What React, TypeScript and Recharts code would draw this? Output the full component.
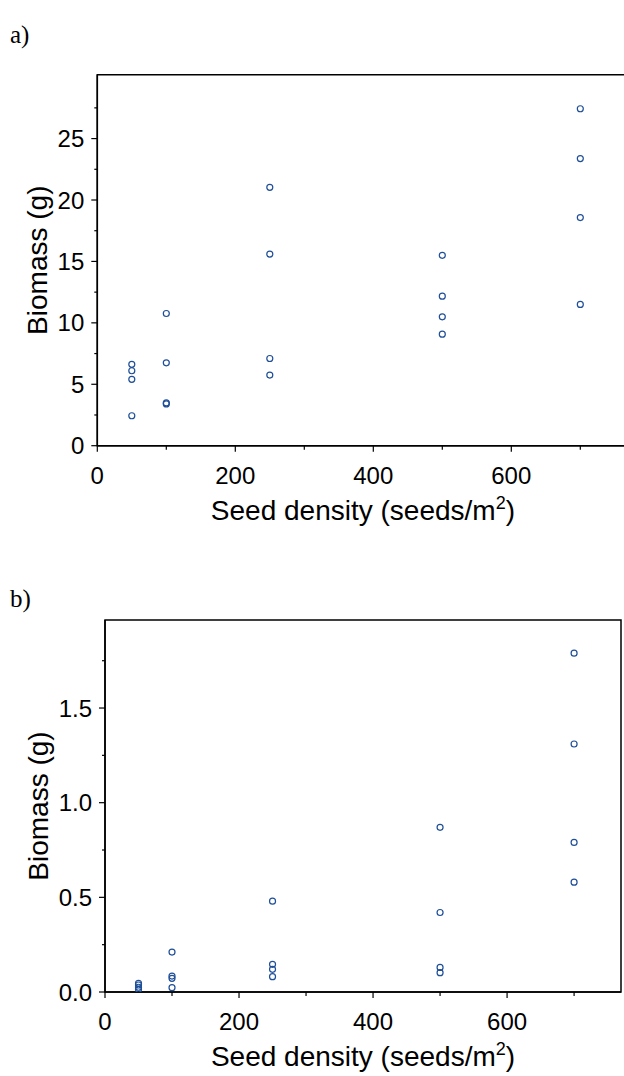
import React from 'react'
import { ScatterChart, Scatter, XAxis, YAxis, ReferenceArea } from 'recharts'

// panel a) seed density vs biomass
const densityA = [50, 50, 50, 50, 100, 100, 100, 100, 250, 250, 250, 250, 500, 500, 500, 500, 700, 700, 700, 700]
const biomassA = [6.62, 6.1, 5.4, 2.44, 10.76, 6.75, 3.48, 3.4, 21.03, 15.6, 7.1, 5.75, 15.5, 12.17, 10.49, 9.08, 27.43, 23.37, 18.57, 11.5]

// panel b)
const densityB = [50, 50, 50, 50, 100, 100, 100, 100, 250, 250, 250, 250, 500, 500, 500, 500, 700, 700, 700, 700]
const biomassB = [0.046, 0.037, 0.025, 0.014, 0.211, 0.084, 0.072, 0.023, 0.48, 0.146, 0.12, 0.081, 0.87, 0.42, 0.13, 0.102, 1.79, 1.31, 0.79, 0.58]

const xTicks = [0, 100, 200, 300, 400, 500, 600, 700]
const xMajor = [0, 200, 400, 600]
const yTicksA = [0, 2.5, 5, 7.5, 10, 12.5, 15, 17.5, 20, 22.5, 25, 27.5]
const yMajorA = [0, 5, 10, 15, 20, 25]
const yTicksB = [0, 0.25, 0.5, 0.75, 1, 1.25, 1.5, 1.75]
const yMajorB = [0, 0.5, 1, 1.5]

const FONT = '"Liberation Sans", Arial, sans-serif'
const BLUE = '#1f4f98'

const toRows = (xs: number[], ys: number[]) => xs.map((x, i) => ({ x, y: ys[i] }))

const isMajor = (list: number[], v: number) => list.some((m) => Math.abs(m - v) < 1e-9)

const makeXTick = (majors: number[]) => (props: any) => {
  const { x, y, payload } = props
  const major = isMajor(majors, payload.value)
  return (
    <g>
      <line x1={x} x2={x} y1={y} y2={y + (major ? 6 : 4)} stroke="#000" strokeWidth={1.2} />
      {major && (
        <text x={x} y={y + 38} textAnchor="middle" fontSize={24} fontFamily={FONT} fill="#000">
          {payload.value}
        </text>
      )}
    </g>
  )
}

const makeYTick = (majors: number[], fmt: (v: number) => string) => (props: any) => {
  const { x, y, payload } = props
  const major = isMajor(majors, payload.value)
  return (
    <g>
      <line x1={x - (major ? 6 : 3)} x2={x} y1={y} y2={y} stroke="#000" strokeWidth={1.2} />
      {major && (
        <text x={x - 13} y={y + 8.6} textAnchor="end" fontSize={24} fontFamily={FONT} fill="#000">
          {fmt(payload.value)}
        </text>
      )}
    </g>
  )
}

const xTitle = (props: any) => {
  const { x, y, width } = props.viewBox
  return (
    <text x={x + width / 2} y={y + 74} textAnchor="middle" fontSize={28} fontFamily={FONT} fill="#000">
      Seed density (seeds/m<tspan dy={-11} fontSize={18}>2</tspan><tspan dy={11}>)</tspan>
    </text>
  )
}

const yTitle = (props: any) => {
  const { y, height } = props.viewBox
  const cy = y + height / 2
  return (
    <text x={38} y={cy} transform={`rotate(-90, 38, ${cy})`} textAnchor="middle" dominantBaseline="central"
      fontSize={28} fontFamily={FONT} fill="#000">
      Biomass (g)
    </text>
  )
}

const dot = (props: any) => (
  <circle cx={props.cx} cy={props.cy} r={3} fill="none" stroke={BLUE} strokeWidth={1.2} />
)

interface PanelProps {
  data: { x: number; y: number }[]
  yMax: number
  yTicks: number[]
  yMajor: number[]
  fmt: (v: number) => string
  width: number
  height: number
  margin: { top: number; right: number; left: number; bottom: number }
  yAxisWidth: number
  xAxisHeight: number
}

const Panel: React.FC<PanelProps> = ({ data, yMax, yTicks, yMajor, fmt, width, height, margin, yAxisWidth, xAxisHeight }) => (
  <ScatterChart width={width} height={height} margin={margin}>
    <XAxis type="number" dataKey="x" domain={[0, 770]} ticks={xTicks} interval={0}
      tickSize={0} tickMargin={0} tick={makeXTick(xMajor)} height={xAxisHeight}
      axisLine={{ stroke: '#000', strokeWidth: 1.5 }} tickLine={false}
      label={{ content: xTitle }} allowDataOverflow />
    <YAxis type="number" dataKey="y" domain={[0, yMax]} ticks={yTicks} interval={0}
      tickSize={0} tickMargin={0} tick={makeYTick(yMajor, fmt)} width={yAxisWidth}
      axisLine={{ stroke: '#000', strokeWidth: 1.5 }} tickLine={false}
      label={{ content: yTitle }} allowDataOverflow />
    <ReferenceArea x1={0} x2={770} y1={0} y2={yMax} fill="none" fillOpacity={0} stroke="#000" strokeWidth={1.5} />
    <Scatter data={data} shape={dot} isAnimationActive={false} />
  </ScatterChart>
)

const labelStyle: React.CSSProperties = {
  position: 'absolute',
  left: 10,
  fontFamily: '"Liberation Serif", "DejaVu Serif", serif',
  fontSize: 25,
}

export default function App() {
  return (
    <div style={{ position: 'absolute', left: 0, top: 0, width: 624, height: 1076, overflow: 'hidden', background: '#fff' }}>
      <div style={{ ...labelStyle, top: 21 }}>a)</div>
      <div style={{ position: 'absolute', left: 0, top: 0 }}>
        <Panel data={toRows(densityA, biomassA)} yMax={30.2} yTicks={yTicksA} yMajor={yMajorA}
          fmt={(v) => String(v)} width={640} height={540}
          margin={{ top: 74.7, right: 11.4, left: 0, bottom: 0 }} yAxisWidth={97.3} xAxisHeight={94.3} />
      </div>
      <div style={{ ...labelStyle, top: 585 }}>b)</div>
      <div style={{ position: 'absolute', left: 0, top: 540 }}>
        <Panel data={toRows(densityB, biomassB)} yMax={1.965} yTicks={yTicksB} yMajor={yMajorB}
          fmt={(v) => v.toFixed(1)} width={624} height={536}
          margin={{ top: 80, right: 3, left: 0, bottom: 0 }} yAxisWidth={105} xAxisHeight={84} />
      </div>
    </div>
  )
}
